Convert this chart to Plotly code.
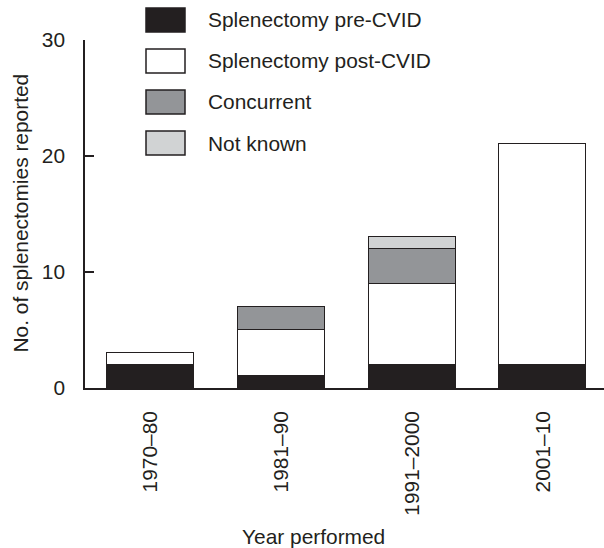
import plotly.graph_objects as go

# ---- data ----
periods = ["1970–80", "1981–90", "1991–2000", "2001–10"]
pre_cvid = [2, 1, 2, 2]
post_cvid = [1, 4, 7, 19]
concurrent = [0, 2, 3, 0]
not_known = [0, 0, 1, 0]
series_names = ["Splenectomy pre-CVID", "Splenectomy post-CVID", "Concurrent", "Not known"]
y_ticks = [0, 10, 20, 30]

# ---- style ----
INK = "#231f20"
colors = [INK, "#ffffff", "#939598", "#d1d3d4"]
FONT = "Liberation Sans, Arial, Helvetica, sans-serif"
FS = 20.9
W, H = 604, 548
ML, MR, MT, MB = 85, 0, 40, 160
PW, PH = W - ML - MR, H - MT - MB


def px2x(px):
    return (px - ML) / PW


def px2y(py):
    return (H - MB - py) / PH


fig = go.Figure()
for name, vals, col in zip(series_names, [pre_cvid, post_cvid, concurrent, not_known], colors):
    fig.add_trace(go.Bar(
        x=list(range(len(periods))),
        y=[v if v else None for v in vals],
        name=name,
        width=0.665,
        marker=dict(color=col, line=dict(color=INK, width=1.5)),
        showlegend=False,
    ))

# custom legend (large swatches)
shapes = []
annotations = []
row_tops = [8, 49, 90, 131]
for name, col, top in zip(series_names, colors, row_tops):
    shapes.append(dict(type="rect", xref="paper", yref="paper",
                       x0=px2x(146), x1=px2x(185), y0=px2y(top + 24), y1=px2y(top),
                       fillcolor=col, line=dict(color=INK, width=1.5)))
    annotations.append(dict(text=name, xref="paper", yref="paper",
                            x=px2x(206), y=px2y(top + 12), xanchor="left", yanchor="middle",
                            showarrow=False, font=dict(family=FONT, size=FS, color=INK)))

annotations.append(dict(text="No. of splenectomies reported", xref="paper", yref="paper",
                        x=px2x(20), y=px2y(213.5), xanchor="center", yanchor="middle",
                        textangle=-90, showarrow=False,
                        font=dict(family=FONT, size=FS, color=INK)))
annotations.append(dict(text="Year performed", xref="paper", yref="paper",
                        x=px2x(313), y=px2y(536), xanchor="center", yanchor="middle",
                        showarrow=False, font=dict(family=FONT, size=FS, color=INK)))

fig.update_layout(
    width=W, height=H, autosize=False,
    margin=dict(l=ML, r=MR, t=MT, b=MB, pad=0),
    plot_bgcolor="white", paper_bgcolor="white",
    barmode="stack", bargap=0,
    font=dict(family=FONT, size=FS, color=INK),
    shapes=shapes, annotations=annotations,
    xaxis=dict(range=[-0.5, 3.467], tickmode="array",
               tickvals=list(range(len(periods))), ticktext=periods,
               tickangle=-90, ticks="", showline=True, linecolor=INK, linewidth=1.5,
               showgrid=False, zeroline=False, ticklabelstandoff=13,
               tickfont=dict(family=FONT, size=FS, color=INK)),
    yaxis=dict(range=[0, 30], tickmode="array", tickvals=y_ticks,
               ticks="inside", ticklen=9, tickwidth=1.5, tickcolor=INK,
               showline=True, linecolor=INK, linewidth=1.5,
               showgrid=False, zeroline=False, ticklabelstandoff=14,
               tickfont=dict(family=FONT, size=FS, color=INK)),
)

fig.write_html("out.html", config={"displayModeBar": False},
               post_script="document.body.style.margin='0px';document.body.style.overflow='hidden';")
